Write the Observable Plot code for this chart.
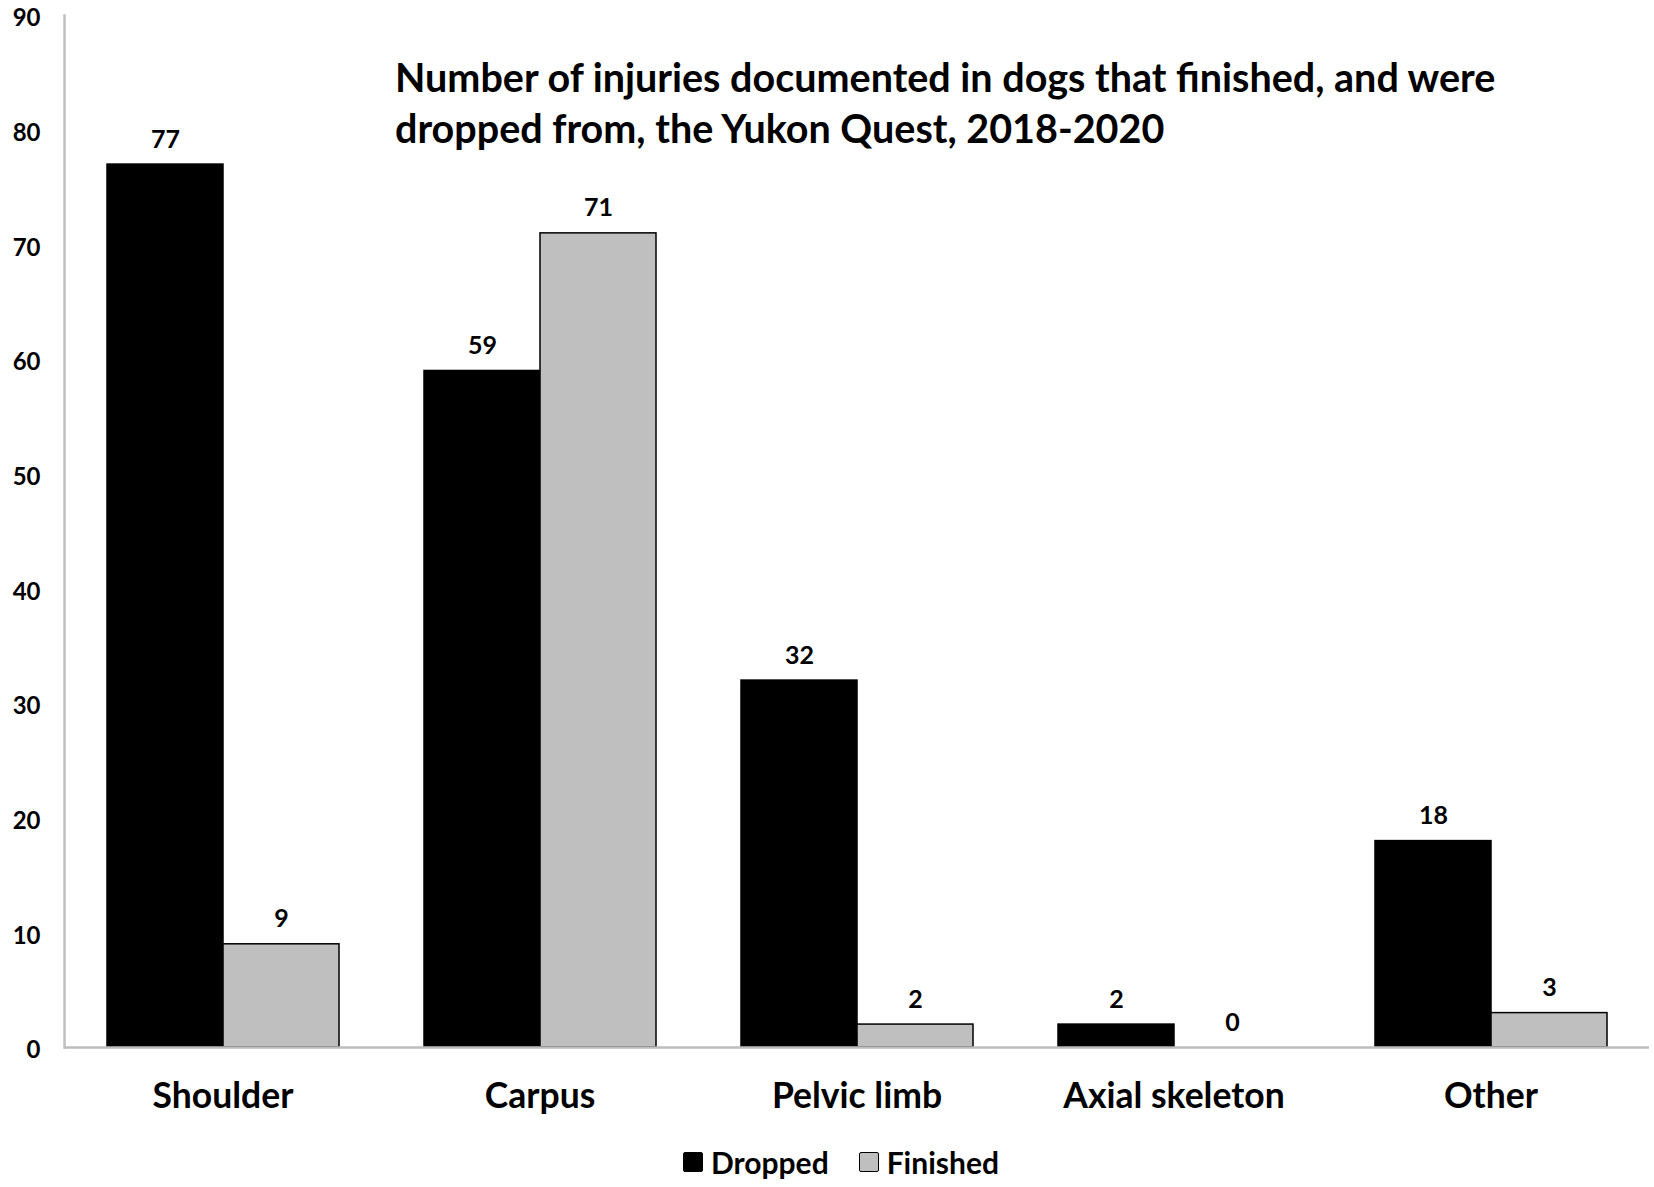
<!DOCTYPE html>
<html>
<head>
<meta charset="utf-8">
<script src="https://cdn.jsdelivr.net/npm/d3@7"></script>
<script src="https://cdn.jsdelivr.net/npm/@observablehq/plot@0.6"></script>
<style>
  html, body { margin: 0; padding: 0; background: #fff; }
  #wrap { position: relative; width: 1654px; height: 1187px; font-family: Lato, "Open Sans", sans-serif; color: #000; }
  #title { position: absolute; left: 395px; top: 51px; font-size: 39.5px; line-height: 51px; font-weight: bold; white-space: nowrap; }
  #legend { position: absolute; left: 683px; top: 1144px; display: flex; align-items: center; font-size: 30px; font-weight: bold; }
  .sw { width: 18px; height: 18px; border: 1.5px solid #000; border-radius: 2px; margin-right: 8px; }
  .item { display: flex; align-items: center; margin-right: 30px; }
</style>
</head>
<body>
<div id="wrap">
  <div id="chart"></div>
  <div id="title">Number of injuries documented in dogs that finished, and were<br>dropped from, the Yukon Quest, 2018-2020</div>
  <div id="legend"></div>
</div>
<script>
const categories = ["Shoulder", "Carpus", "Pelvic limb", "Axial skeleton", "Other"];
const series = ["Dropped", "Finished"];
const dropped = [77, 59, 32, 2, 18];
const finished = [9, 71, 2, 0, 3];
const yTicks = [0, 10, 20, 30, 40, 50, 60, 70, 80, 90];
const colors = ["#000000", "#bfbfbf"];

const data = categories.flatMap((c, i) => [
  {category: c, series: series[0], value: dropped[i]},
  {category: c, series: series[1], value: finished[i]}
]);

const chart = Plot.plot({
  width: 1654,
  height: 1127,
  marginLeft: 63,
  marginRight: 5,
  marginTop: 15,
  marginBottom: 80,
  style: {fontFamily: "Lato, 'Open Sans', sans-serif", color: "#000", background: "#fff"},
  fx: {domain: categories, padding: 0, label: null},
  x: {domain: series, paddingInner: 0, paddingOuter: 0.366, axis: null},
  y: {domain: [0, 90], label: null},
  color: {domain: series, range: colors},
  marks: [
    Plot.frame({anchor: "left", fx: [categories[0]], stroke: "#c0c0c0", strokeWidth: 2.5}),
    Plot.barY(data, {fx: "category", x: "series", y: "value", fill: "series", stroke: "#000", strokeWidth: 1.5}),
    Plot.ruleY([0], {stroke: "#bdbdbd", strokeWidth: 2.5}),
    Plot.text(data, {fx: "category", x: "series", y: "value", text: d => String(d.value), lineAnchor: "bottom", dy: -17, fontSize: 25, fontWeight: "bold", fill: "#000"}),
    Plot.axisY({ticks: yTicks, tickSize: 0, tickPadding: 24, fontSize: 24, fontWeight: "bold", dy: 3, label: null, fill: "#000"}),
    Plot.axisFx({anchor: "bottom", tickSize: 0, tickPadding: 35, fontSize: 35.5, fontWeight: "bold", label: null, fill: "#000"})
  ]
});
document.getElementById("chart").appendChild(chart);

const legend = document.getElementById("legend");
series.forEach((s, i) => {
  const item = document.createElement("div");
  item.className = "item";
  const sw = document.createElement("div");
  sw.className = "sw";
  sw.style.background = colors[i];
  const t = document.createElement("span");
  t.textContent = s;
  item.appendChild(sw);
  item.appendChild(t);
  legend.appendChild(item);
});
</script>
</body>
</html>
